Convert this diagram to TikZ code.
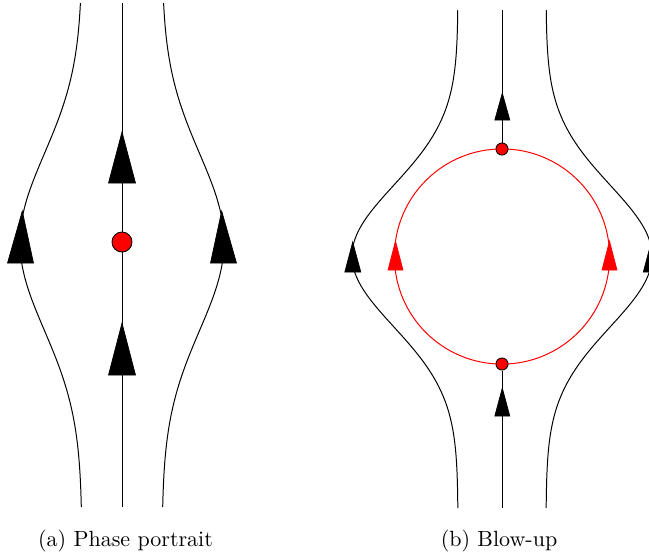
\documentclass[tikz,border=0pt]{standalone}
\begin{document}
\begin{tikzpicture}[x=0.4545pt,y=-0.4545pt,
  orbit/.style={line width=0.45pt,black},
  redorbit/.style={line width=0.45pt,red},
  tri/.style={fill=black,draw=black,line width=0.3pt,line join=miter},
  redtri/.style={fill=red,draw=red,line width=0.3pt,line join=miter},
  bigdot/.style={circle,fill=red,draw=black,line width=0.4pt,inner sep=0pt,minimum size=9.1pt},
  smalldot/.style={circle,fill=red,draw=black,line width=0.4pt,inner sep=0pt,minimum size=5.5pt},
  caption/.style={anchor=base,inner sep=0pt,font=\normalsize}]
\useasboundingbox (0,0) rectangle (649,552);
% ---------- (a) Phase portrait ----------
\coordinate (atop) at (122,3);
\coordinate (abot) at (122,507);
\draw[orbit] (abot) -- (atop);
\draw[orbit] plot[domain=3:507,samples=160,variable=\t,smooth] ({122-40-62*exp(-((\t-242)/125)^2)},{\t});
\draw[orbit] plot[domain=3:507,samples=160,variable=\t,smooth] ({122+40+62*exp(-((\t-242)/125)^2)},{\t});
\path[tri] (122,132) -- (135.5,183) -- (108.5,183) -- cycle;
\path[tri] (122,323) -- (135.5,375) -- (108.5,375) -- cycle;
\path[tri] (22.3,211) -- (33.5,263) -- (7.5,263) -- cycle;
\path[tri] (221.7,211) -- (236.5,263) -- (210.5,263) -- cycle;
\node[bigdot] (adot) at (122,242) {};
\node[caption] (capa) at (125.5,546) {(a) Phase portrait};
% ---------- (b) Blow-up ----------
\draw[orbit] plot[domain=10:508,samples=160,variable=\t,smooth] ({502-44-106*exp(-((\t-256)/100)^2)},{\t});
\draw[orbit] plot[domain=10:508,samples=160,variable=\t,smooth] ({502+44+106*exp(-((\t-256)/100)^2)},{\t});
\draw[redorbit] (502,256.5) circle[radius=48.9pt];
\node[smalldot] (btop) at (502,149) {};
\node[smalldot] (bbot) at (502,364) {};
\coordinate (bup) at (502,10);
\coordinate (bdown) at (502,508);
\draw[orbit] (btop) -- (bup);
\draw[orbit] (bdown) -- (bbot);
\path[tri] (502.3,93) -- (509.8,120) -- (494.8,120) -- cycle;
\path[tri] (502.3,388) -- (509.8,416) -- (494.8,416) -- cycle;
\path[tri] (352.7,242) -- (360.8,272) -- (344.8,272) -- cycle;
\path[tri] (651.3,242) -- (659.3,272) -- (643.3,272) -- cycle;
\path[redtri] (395.5,241) -- (403,270) -- (388,270) -- cycle;
\path[redtri] (609.5,241) -- (617,270) -- (602,270) -- cycle;
\node[caption] (capb) at (499,546) {(b) Blow-up};
\end{tikzpicture}
\end{document}
